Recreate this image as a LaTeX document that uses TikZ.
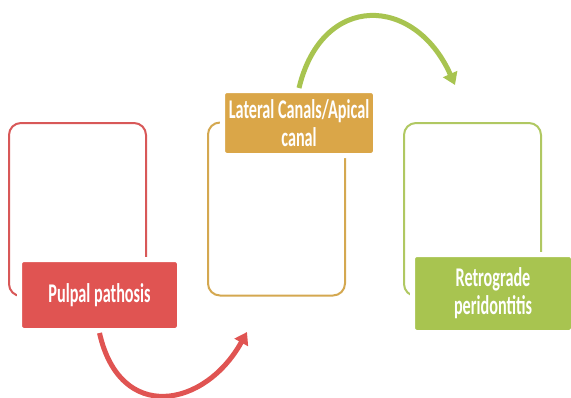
\documentclass[tikz,border=0pt]{standalone}
\usepackage{fontspec}
\newfontfamily\boxfont[FakeStretch=0.6]{Carlito}
\usetikzlibrary{arrows.meta,positioning}
\definecolor{pulpred}{RGB}{224,84,82}
\definecolor{pulpredline}{RGB}{216,88,88}
\definecolor{canalgold}{RGB}{218,166,72}
\definecolor{canalgoldline}{RGB}{212,168,80}
\definecolor{retrogreen}{RGB}{168,196,80}
\definecolor{retrogreenline}{RGB}{176,200,98}
\tikzset{
  frame/.style={draw, line width=2pt, rounded corners=12pt,
    minimum width=137pt, minimum height=173pt, inner sep=0pt},
  labelbox/.style={draw=white, line width=5pt, rounded corners=4pt,
    text=white, align=center, inner sep=0pt,
    font=\boxfont\bfseries\fontsize{27}{28}\selectfont},
  bigarrow/.style={line width=5pt, -{Triangle[length=12pt,width=15pt]}},
}

\begin{document}
\begin{tikzpicture}[x=1pt, y=-1pt]
\useasboundingbox (0,0) rectangle (571,397);
% outline frames
\node[frame, draw=pulpredline] (pulpFrame) at (77.5,209.5) {};
\node[frame, draw=canalgoldline] (canalFrame) at (276.5,209) {};
\node[frame, draw=retrogreenline] (retroFrame) at (472.5,209.5) {};
% coloured labels
\node[labelbox, fill=pulpred, minimum width=160pt, minimum height=71pt]
  (pulp) at (99.5,295) {Pulpal pathosis};
\node[labelbox, fill=canalgold, minimum width=153pt, minimum height=65pt]
  (canal) at (299,123) {Lateral Canals/Apical\\canal};
\node[labelbox, fill=retrogreen, minimum width=161pt, minimum height=78pt]
  (retro) at (493,293.5) {Retrograde\\peridontitis};
% arrow tips
\coordinate (redTip) at (247,332);
\coordinate (greenTip) at (455,85);
% curved arrows
\draw[bigarrow, pulpred] (pulp.south) .. controls (120,424) and (205,408) .. (redTip);
\draw[bigarrow, retrogreen] (canal.north) .. controls (322,-8) and (415,-5) .. (greenTip);
\end{tikzpicture}
\end{document}
